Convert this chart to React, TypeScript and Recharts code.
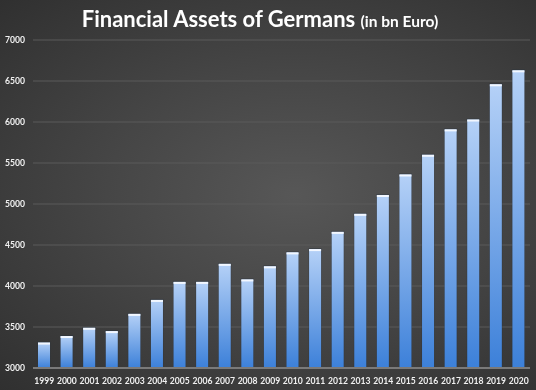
import React from "react";
import { BarChart, Bar, XAxis, YAxis, CartesianGrid } from "recharts";

const years = ["1999","2000","2001","2002","2003","2004","2005","2006","2007","2008","2009","2010","2011","2012","2013","2014","2015","2016","2017","2018","2019","2020"];
const assets = [3310,3390,3490,3450,3660,3830,4050,4050,4270,4080,4240,4410,4450,4660,4880,5110,5360,5600,5910,6030,6460,6630];
const yTicks = [3000,3500,4000,4500,5000,5500,6000,6500,7000];

const data = years.map((y, i) => ({ year: y, value: assets[i] }));

const font = "Lato, 'Open Sans', sans-serif";

const BarShape = (props: any) => {
  const { x, y, width, height } = props;
  if (height <= 0) return null;
  return (
    <g>
      <rect x={x - 0.5} y={y - 1} width={width + 1} height={height + 1} fill="#2a3340" opacity={0.5} />
      <rect x={x} y={y} width={width} height={height} fill="url(#barGrad)" />
      <rect x={x} y={y} width={width} height={2} fill="#f2f7ff" />
    </g>
  );
};

export default function App() {
  return (
    <div
      style={{
        position: "fixed",
        left: 0,
        top: 0,
        width: 536,
        height: 390,
        background: "radial-gradient(ellipse at 55% 50%, #575757 0%, #464646 45%, #303030 100%)",
        overflow: "hidden",
      }}
    >
      <div
        style={{
          position: "absolute",
          left: -8,
          top: 4,
          width: 536,
          textAlign: "center",
          color: "#ffffff",
          fontFamily: font,
          fontWeight: 700,
          fontSize: 22,
          lineHeight: "30px",
        }}
      >
        Financial Assets of Germans <span style={{ fontSize: 15.5 }}>(in bn Euro)</span>
      </div>
      <BarChart
        width={536}
        height={390}
        data={data}
        margin={{ top: 40, right: 6, bottom: 0, left: 0 }}
        barSize={12}
        style={{ position: "absolute", left: 0, top: 0 }}
      >
        <defs>
          <linearGradient id="barGrad" x1="0" y1="0" x2="0" y2="1">
            <stop offset="0%" stopColor="#b5d1f7" />
            <stop offset="100%" stopColor="#3c80d9" />
          </linearGradient>
        </defs>
        <CartesianGrid vertical={false} stroke="#5a5a5a" strokeWidth={1} />
        <XAxis
          dataKey="year"
          interval={0}
          tickLine={false}
          axisLine={{ stroke: "#7a7a7a", strokeWidth: 2 }}
          height={22}
          tickMargin={4}
          tick={{ fill: "#f0f0f0", fontSize: 8.6, fontWeight: 700, fontFamily: font }}
        />
        <YAxis
          domain={[3000, 7000]}
          ticks={yTicks}
          interval={0}
          width={33}
          tickLine={false}
          axisLine={false}
          tickSize={8}
          tickMargin={0}
          tick={{ fill: "#f0f0f0", fontSize: 8.6, fontWeight: 700, fontFamily: font }}
        />
        <Bar dataKey="value" isAnimationActive={false} shape={<BarShape />} />
      </BarChart>
    </div>
  );
}
